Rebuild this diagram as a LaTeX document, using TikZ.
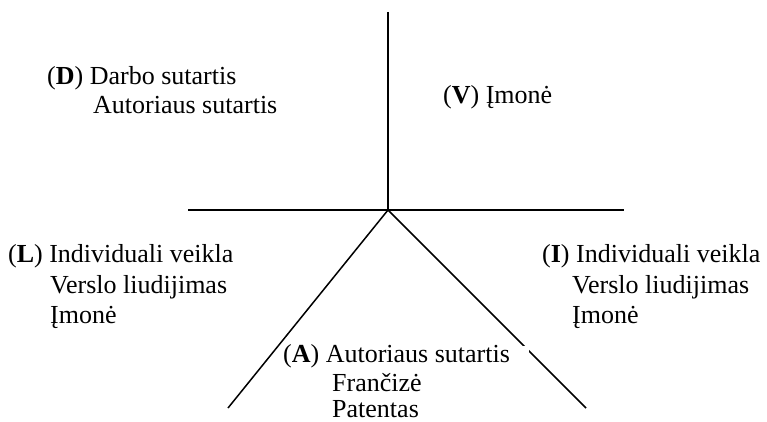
\documentclass[tikz,border=0pt]{standalone}
\usepackage{fontspec}
\setmainfont{Liberation Serif}
\begin{document}
\begin{tikzpicture}[x=1pt,y=-1pt,
  axis/.style={line width=1.5pt,black},
  lbl/.style={anchor=base west,inner sep=0pt,font=\fontsize{26}{30}\selectfont},
  mask/.style={fill=white,inner xsep=1pt,inner ysep=0pt,text height=16pt}]
\useasboundingbox (0,0) rectangle (767,422);

% centre point and free ends of the four arms
\coordinate (c) at (388,210);
\coordinate (top) at (388,12);
\coordinate (w) at (188,210);
\coordinate (e) at (624,210);
\coordinate (sw) at (228,408);
\coordinate (se) at (586,408);

\draw[axis] (top) -- (c);
\draw[axis] (w) -- (e);
\draw[axis] (c) -- (sw);
\draw[axis] (c) -- (se);

% D
\node[lbl] (d1) at (47,85) {(\textbf{D}) Darbo sutartis};
\node[lbl] (d2) at (93,114) {Autoriaus sutartis};
% V
\node[lbl] (v1) at (443,104) {(\textbf{V}) Įmonė};
% L
\node[lbl] (l1) at (8,262) {(\textbf{L}) Individuali veikla};
\node[lbl] (l2) at (50,293) {Verslo liudijimas};
\node[lbl] (l3) at (50,323) {Įmonė};
% I
\node[lbl] (i1) at (542,262) {(\textbf{I}) Individuali veikla};
\node[lbl] (i2) at (572,293) {Verslo liudijimas};
\node[lbl] (i3) at (572,323) {Įmonė};
% A (white box over the right arm)
\node[lbl,mask] (a1) at (282,362) {\makebox[245pt][l]{(\textbf{A}) Autoriaus sutartis}};
\node[lbl] (a2) at (332,391) {Frančizė};
\node[lbl] (a3) at (332,417) {Patentas};
\end{tikzpicture}
\end{document}
